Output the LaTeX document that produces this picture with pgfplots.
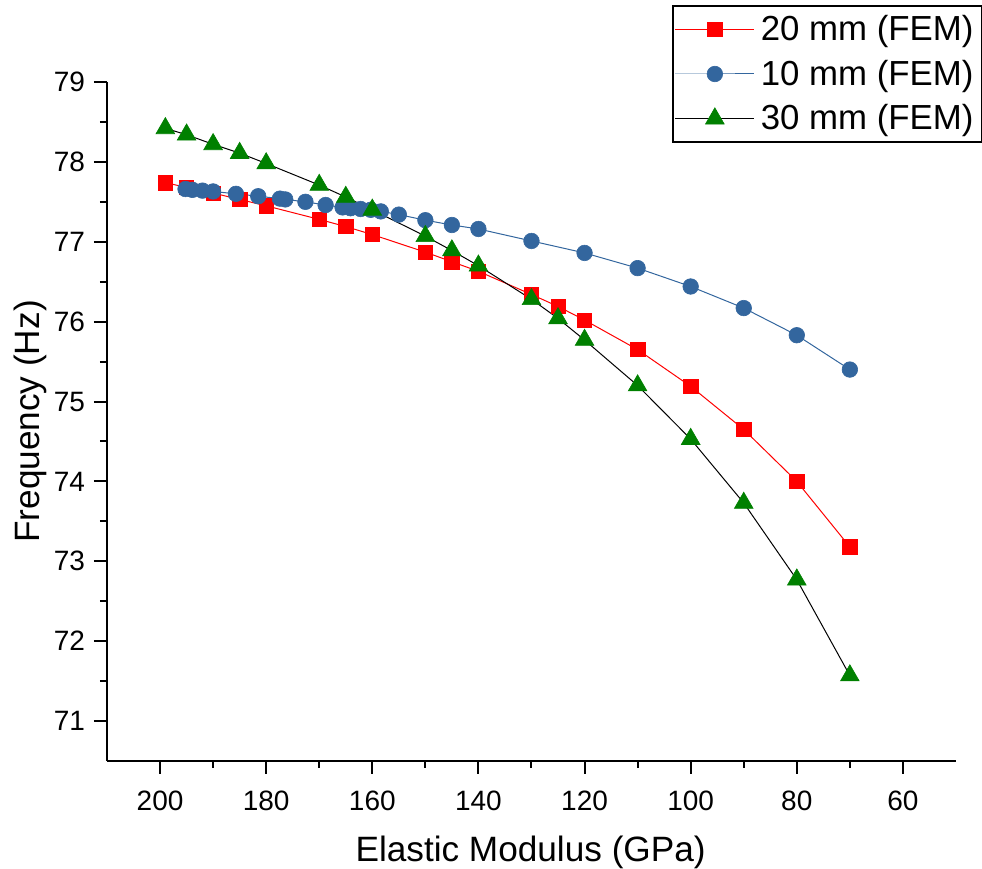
\documentclass[border=0pt]{standalone}
\usepackage{fontspec}
\setmainfont{Liberation Sans}
\usepackage{pgfplots}
\pgfplotsset{compat=1.18}
\definecolor{cred}{RGB}{255,0,0}
\definecolor{cblue}{RGB}{51,102,158}
\definecolor{cgreen}{RGB}{0,128,0}
\begin{document}
\begin{tikzpicture}
\begin{axis}[
  scale only axis,
  width=424.5pt, height=339.5pt,
  xmin=50, xmax=210, ymin=70.5, ymax=79,
  x dir=reverse,
  axis x line*=bottom, axis y line*=left,
  axis line style={line width=1pt},
  xtick={60,80,...,200}, ytick={71,72,...,79},
  minor x tick num=1, minor y tick num=1,
  tick align=outside,
  major tick length=6.5pt, minor tick length=3.5pt,
  every tick/.style={black, line width=1pt},
  /pgf/number format/assume math mode=true,
  ticklabel style={font=\fontsize{14}{16}\selectfont},
  xticklabel style={yshift=-5pt},
  yticklabel style={xshift=-1pt},
  label style={font=\fontsize{17.6}{20}\selectfont},
  xlabel={Elastic Modulus (GPa)},
  ylabel={Frequency (Hz)},
  xlabel style={at={(axis description cs:0.499,-0.1487)}, anchor=base},
  ylabel style={at={(axis description cs:-0.0789,0.5)}, anchor=base, rotate=0},
  legend cell align=left,
  legend style={at={(axis description cs:1.031,1.113)}, anchor=north east,
    draw=black, line width=0.8pt, inner xsep=1pt, inner ysep=0.5pt,
    font=\fontsize{17.4}{20}\selectfont,
    nodes={inner xsep=3pt, inner ysep=4.1pt}},
  legend image code/.code={\draw[mark repeat=2, mark phase=2, line width=0.5pt] plot coordinates {(0pt,0pt) (19.75pt,0pt) (39.5pt,0pt)};},
]
\addplot[cred, line width=0.5pt, mark=square*, mark size=3.6pt,
  mark options={fill=cred, draw=cred, line width=0.3pt}] coordinates {
(199,77.74) (195,77.68) (190,77.61) (185,77.53) (180,77.45) (170,77.28)
(165,77.19) (160,77.09) (150,76.87) (145,76.75) (140,76.63) (130,76.34)
(125,76.19) (120,76.02) (110,75.65) (100,75.19) (90,74.65) (80,74.00) (70,73.18)};
\addlegendentry{20 mm (FEM)}
\addplot[cblue, line width=0.5pt, mark=*, mark size=3.9pt,
  mark options={fill=cblue, draw=cblue, line width=0.3pt}] coordinates {
(195.2,77.66) (193.9,77.65) (192.0,77.64) (190.0,77.63) (185.7,77.60)
(181.5,77.57) (177.4,77.54) (176.4,77.53) (172.6,77.50) (168.8,77.46)
(165.6,77.43) (164.1,77.42) (162.2,77.41) (160.3,77.40) (158.4,77.38)
(155.0,77.34) (150,77.27) (145,77.21) (140,77.16) (130,77.01) (120,76.86)
(110,76.67) (100,76.44) (90,76.17) (80,75.83) (70,75.40)};
\addlegendentry{10 mm (FEM)}
\addplot[black, line width=0.5pt, mark=triangle*, mark size=5.4pt,
  mark options={fill=cgreen, draw=cgreen, line width=0.3pt}] coordinates {
(199,78.42) (195,78.34) (190,78.22) (185,78.11) (180,77.98) (170,77.71)
(165,77.56) (160,77.40) (150,77.07) (145,76.89) (140,76.70) (130,76.28)
(125,76.04) (120,75.77) (110,75.20) (100,74.53) (90,73.73) (80,72.77) (70,71.57)};
\addlegendentry{30 mm (FEM)}
\coordinate (bl) at (rel axis cs:0,0);
\coordinate (tr) at (rel axis cs:1,1);
\end{axis}
\pgfresetboundingbox
\path[use as bounding box] ([shift={(-53.5pt,-54pt)}]bl) rectangle ([shift={(13pt,41pt)}]tr);
\end{tikzpicture}
\end{document}
